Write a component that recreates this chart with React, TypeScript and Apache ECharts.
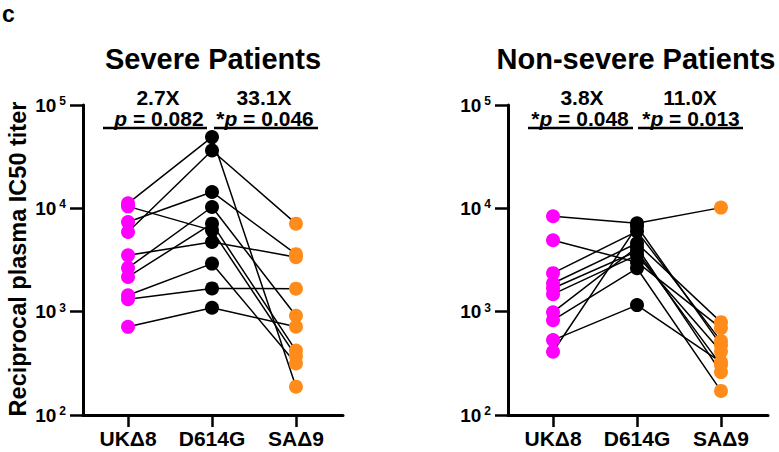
import React, { useEffect, useRef } from 'react';
import * as echarts from 'echarts';

const categories = ['UKΔ8', 'D614G', 'SAΔ9'];

// Severe patients (each index = one patient)
const severeUK = [11170, 10450, 7380, 5900, 3510, 2650, 2170, 1440, 1320, 713];
const severeD614G = [48900, 6120, 14400, 36300, 4720, 10300, 7110, 2920, 1680, 1090];
const severeSA = [188, 371, 3600, 7110, 3370, 912, 420, 315, 1670, 714];

// Non-severe patients
const nonsevereUK = [8380, 4910, 2360, 1885, 1685, 1476, 988, 828, 531, 409];
const nonsevereD614G = [7160, 3010, 5990, 4590, 3845, 3520, 4200, 2630, 1157, 6700];
const nonsevereSA = [10160, 693, 519, 792, 304, 411, 260, 171, 325, 474];

const panelTitles = ['Severe Patients', 'Non-severe Patients'];
const foldLabels = [['2.7X', '33.1X'], ['3.8X', '11.0X']];
const pLabels = [[' p = 0.082', '*p = 0.046'], ['*p = 0.048', '*p = 0.013']];
const yTickValues = [100, 1000, 10000, 100000];

const groupColors = ['#FF00FF', '#000000', '#FF8C1A'];
const FONT = '"Liberation Sans", Arial, Helvetica, sans-serif';
const X_MIN = -0.536;
const X_MAX = 2.56;

function panelSeries(idx: number, uk: number[], d: number[], sa: number[]) {
  const s: any[] = [];
  for (let i = 0; i < uk.length; i++) {
    s.push({
      type: 'line',
      xAxisIndex: idx,
      yAxisIndex: idx,
      data: [[0, uk[i]], [1, d[i]], [2, sa[i]]],
      symbol: 'none',
      lineStyle: { color: '#000', width: 1.5 },
      silent: true,
      z: 2,
    });
  }
  [uk, d, sa].forEach((vals, k) => {
    s.push({
      type: 'scatter',
      xAxisIndex: idx,
      yAxisIndex: idx,
      data: vals.map((v) => [k, v]),
      symbolSize: 14,
      itemStyle: { color: groupColors[k], opacity: 1 },
      z: 3,
    });
  });
  return s;
}

function xAxis(idx: number) {
  return {
    type: 'value',
    gridIndex: idx,
    min: X_MIN,
    max: X_MAX,
    axisLine: { show: true, onZero: false, lineStyle: { color: '#000', width: 3 } },
    axisTick: { show: true, customValues: [0, 1, 2], length: 12, lineStyle: { color: '#000', width: 2.5 } },
    axisLabel: {
      customValues: [0, 1, 2],
      formatter: (v: number) => categories[Math.round(v)],
      fontSize: 21,
      fontWeight: 'bold',
      color: '#000',
      fontFamily: FONT,
      margin: 13,
    },
    splitLine: { show: false },
  };
}

function yAxis(idx: number) {
  return {
    type: 'log',
    gridIndex: idx,
    logBase: 10,
    min: 100,
    max: 100000,
    axisLine: { show: true, onZero: false, lineStyle: { color: '#000', width: 3 } },
    axisTick: { show: true, customValues: yTickValues, length: 13, lineStyle: { color: '#000', width: 2.5 } },
    axisLabel: {
      customValues: yTickValues,
      formatter: (v: number) => `{base|10}{sup|${Math.round(Math.log10(v))}}`,
      margin: 17,
      fontSize: 19,
      fontWeight: 'bold',
      fontFamily: FONT,
      color: '#000',
      rich: {
        base: { fontSize: 19, fontWeight: 'bold', color: '#000', fontFamily: FONT, lineHeight: 20 },
        sup: { fontSize: 12, fontWeight: 'bold', color: '#000', fontFamily: FONT, lineHeight: 12, verticalAlign: 'top', padding: [0, 0, 0, 3] },
      },
    },
    splitLine: { show: false },
    minorTick: { show: false },
  };
}

function pText(text: string, x: number, y: number) {
  const star = text.startsWith('*') ? '*' : ' ';
  const rest = text.slice(2);
  return {
    type: 'text',
    x,
    y,
    silent: true,
    style: {
      text: `{s|${star}}{i|p}{s|${rest}}`,
      align: 'center',
      verticalAlign: 'middle',
      rich: {
        s: { fontSize: 21, fontWeight: 'bold', fontFamily: FONT, fill: '#000', lineHeight: 16 },
        i: { fontSize: 21, fontWeight: 'bold', fontStyle: 'italic', fontFamily: FONT, fill: '#000', lineHeight: 16 },
      },
    },
  };
}

function boldText(text: string, x: number, y: number, size: number) {
  return {
    type: 'text',
    x,
    y,
    silent: true,
    style: { text, align: 'center', verticalAlign: 'middle', fontSize: size, lineHeight: 16, fontWeight: 'bold', fontFamily: FONT, fill: '#000' },
  };
}

function bar(x1: number, x2: number, y: number) {
  return { type: 'line', silent: true, shape: { x1, y1: y, x2, y2: y }, style: { stroke: '#000', lineWidth: 2.5 } };
}

export default function App() {
  const ref = useRef<HTMLDivElement>(null);
  useEffect(() => {
    document.body.style.margin = '0';
    if (!ref.current) return;
    const chart = echarts.init(ref.current, null, { renderer: 'svg' });
    const titleStyle = { fontSize: 29, fontWeight: 'bold', color: '#000', fontFamily: FONT };
    const option: any = {
      animation: false,
      backgroundColor: '#fff',
      title: [
        { text: panelTitles[0], left: 213, top: 44, textAlign: 'center', padding: 0, textStyle: titleStyle },
        { text: panelTitles[1], left: 636, top: 44, textAlign: 'center', padding: 0, textStyle: titleStyle },
      ],
      grid: [
        { left: 83, right: 779 - 343, top: 105, bottom: 452 - 415, containLabel: false },
        { left: 508, right: 779 - 768, top: 105, bottom: 452 - 415, containLabel: false },
      ],
      xAxis: [xAxis(0), xAxis(1)],
      yAxis: [yAxis(0), yAxis(1)],
      series: [
        ...panelSeries(0, severeUK, severeD614G, severeSA),
        ...panelSeries(1, nonsevereUK, nonsevereD614G, nonsevereSA),
      ],
      graphic: [
        { type: 'text', x: 2, y: 2, silent: true, style: { text: 'c', fontSize: 23, fontWeight: 'bold', fontFamily: FONT, fill: '#000' } },
        {
          type: 'text', x: 18, y: 259, rotation: Math.PI / 2, silent: true,
          style: { text: 'Reciprocal plasma IC50 titer', align: 'center', verticalAlign: 'middle', fontSize: 23.5, fontWeight: 'bold', fontFamily: FONT, fill: '#000' },
        },
        boldText(foldLabels[0][0], 158, 97, 21),
        boldText(foldLabels[0][1], 264, 97, 21),
        boldText(foldLabels[1][0], 582, 97, 21),
        boldText(foldLabels[1][1], 690, 97, 21),
        pText(pLabels[0][0], 156, 118),
        pText(pLabels[0][1], 265, 118),
        pText(pLabels[1][0], 580, 118),
        pText(pLabels[1][1], 691, 118),
        bar(103, 207, 128),
        bar(214, 318, 128),
        bar(528, 633, 128),
        bar(638, 743, 128),
      ],
    };
    chart.setOption(option);
    return () => chart.dispose();
  }, []);
  return <div ref={ref} style={{ width: 779, height: 452 }} />;
}
